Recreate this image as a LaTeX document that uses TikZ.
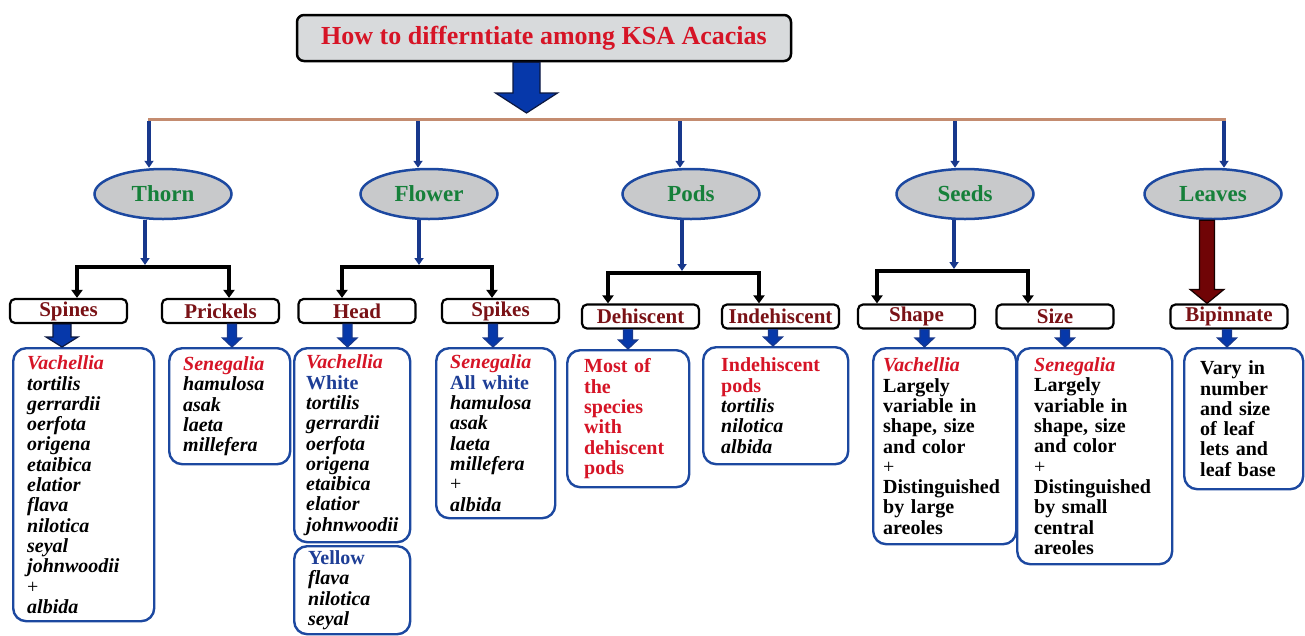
\documentclass[tikz,border=0pt]{standalone}
\usepackage{fontspec}
\setmainfont{Liberation Serif}
\usetikzlibrary{positioning, shapes.geometric, arrows.meta, calc}

\definecolor{titlered}{RGB}{214,20,38}
\definecolor{labelred}{RGB}{122,18,22}
\definecolor{leafgreen}{RGB}{22,128,58}
\definecolor{huetext}{RGB}{30,62,150}
\definecolor{headgray}{RGB}{216,218,220}
\definecolor{organgray}{RGB}{200,201,203}
\definecolor{boxblue}{RGB}{28,72,160}
\definecolor{stemblue}{RGB}{24,56,140}
\definecolor{blockfill}{RGB}{6,56,170}
\definecolor{blockline}{RGB}{12,24,64}
\definecolor{tanline}{RGB}{196,140,112}
\definecolor{leafarrow}{RGB}{112,4,6}

% fat arrow pointing down: from, to, shaft half, head half, head length, line, fill
\newcommand{\blockdown}[7]{%
    \draw[#6, fill=#7, line width=1.2pt, line join=miter]
        let \p1=(#1), \p2=(#2) in
        ({\x1-#3pt},\y1) -- ({\x1+#3pt},\y1) -- ({\x1+#3pt},{\y2+#5pt})
        -- ({\x1+#4pt},{\y2+#5pt}) -- (\x1,\y2) -- ({\x1-#4pt},{\y2+#5pt})
        -- ({\x1-#3pt},{\y2+#5pt}) -- cycle;}
\newcommand{\genus}[1]{\textcolor{titlered}{\textit{#1}}}
\newcommand{\hue}[1]{\textcolor{huetext}{\upshape #1}}
\newcommand{\plus}{{\upshape\mdseries +}}

\begin{document}
\begin{tikzpicture}[
    x=1pt, y=-1pt,
    % Styles
    heading/.style={
        rectangle,
        rounded corners=7pt,
        draw=black,
        line width=2.5pt,
        fill=headgray,
        minimum width=494pt,
        minimum height=46pt,
        text=titlered,
        font=\bfseries\fontsize{26}{28}\selectfont
    },
    organ/.style={
        ellipse,
        draw=boxblue,
        line width=2.5pt,
        fill=organgray,
        minimum width=137pt,
        minimum height=50pt,
        inner sep=0pt,
        text=leafgreen,
        font=\bfseries\fontsize{23}{25}\selectfont
    },
    trait/.style={
        rectangle,
        rounded corners=5pt,
        draw=black,
        line width=2.2pt,
        fill=white,
        minimum width=117pt,
        minimum height=24pt,
        inner sep=0pt,
        text=labelred,
        font=\bfseries\fontsize{21}{22}\selectfont
    },
    infobox/.style={
        rectangle,
        rounded corners=13pt,
        draw=boxblue,
        line width=2.4pt,
        fill=white,
        anchor=north west,
        align=left,
        inner xsep=14pt,
        inner ysep=0pt,
        font=\bfseries\fontsize{20}{20.3}\selectfont
    },
    species/.style={
        font=\bfseries\itshape\fontsize{20}{20.3}\selectfont
    },
    bar/.style={
        draw=tanline,
        line width=3pt
    },
    stem/.style={
        draw=stemblue,
        line width=3.2pt,
        -{Triangle[length=7pt,width=9pt]}
    },
    bracket/.style={
        draw=black,
        line width=3.5pt,
        {Triangle[length=8pt,width=11pt]}-{Triangle[length=8pt,width=11pt]}
    }
]
    \useasboundingbox (0,0) rectangle (1305,635);

    % Title and bar
    \node[heading] (title) at (544,38) {How to differntiate among KSA Acacias};
    \coordinate (barL) at (148,119);
    \coordinate (barR) at (1226,119);
    \coordinate (titletip) at (526.5,113);
    \blockdown{$(title.south)+(-17.5,0)$}{titletip}{13.5}{31}{20}{blockline}{blockfill}
    \draw[bar] (barL) -- (barR);

    % Organs
    \node[organ] (thorn) at (163,194) {Thorn};
    \node[organ] (flower) at (429,194) {Flower};
    \node[organ] (pods) at (691,194) {Pods};
    \node[organ] (seeds) at (965,194) {Seeds};
    \node[organ] (leaves) at (1213,194) {Leaves};

    \coordinate (b1) at (149,121);
    \coordinate (b2) at (418,121);
    \coordinate (b3) at (680,121);
    \coordinate (b4) at (955,121);
    \coordinate (b5) at (1224,121);
    \draw[stem] (b1) -- (b1 |- thorn.north);
    \draw[stem] (b2) -- (b2 |- flower.north);
    \draw[stem] (b3) -- (b3 |- pods.north);
    \draw[stem] (b4) -- (b4 |- seeds.north);
    \draw[stem] (b5) -- (b5 |- leaves.north);

    % Traits
    \node[trait] (spines) at (68.5,311) {Spines};
    \node[trait] (prickels) at (220.5,311) {Prickels};
    \node[trait] (head) at (357,311) {Head};
    \node[trait] (spikes) at (500.5,311) {Spikes};
    \node[trait] (dehisc) at (640.5,316.5) {Dehiscent};
    \node[trait] (indehisc) at (780.5,316.5) {Indehiscent};
    \node[trait] (shape) at (916.5,316.5) {Shape};
    \node[trait] (size) at (1055,316.5) {Size};
    \node[trait] (bipin) at (1229,316.5) {Bipinnate};

    % Brackets
    \coordinate (tj) at (145,265);
    \coordinate (tl) at (77,267);
    \coordinate (tr) at (229,267);
    \coordinate (fj) at (419,265);
    \coordinate (fl) at (342,267);
    \coordinate (fr) at (492,267);
    \coordinate (pj) at (682,271);
    \coordinate (pl) at (608,273);
    \coordinate (pr) at (759,273);
    \coordinate (sj) at (954,269);
    \coordinate (sl) at (877,271);
    \coordinate (sr) at (1028,271);
    \draw[stem] (tj |- thorn.south) -- (tj);
    \draw[stem] (fj |- flower.south) -- (fj);
    \draw[stem] (pj |- pods.south) -- (pj);
    \draw[stem] (sj |- seeds.south) -- (sj);
    \draw[bracket] (tl |- spines.north) -- (tl) -- (tr) -- (tr |- prickels.north);
    \draw[bracket] (fl |- head.north) -- (fl) -- (fr) -- (fr |- spikes.north);
    \draw[bracket] (pl |- dehisc.north) -- (pl) -- (pr) -- (pr |- indehisc.north);
    \draw[bracket] (sl |- shape.north) -- (sl) -- (sr) -- (sr |- size.north);
    \blockdown{$(leaves.south)+(-6,0)$}{bipin.north}{7.5}{17}{14}{black!80!leafarrow}{leafarrow}

    % Contents
    \node[infobox, species, text width=113pt, minimum height=273pt] (spinesbox) at (12,347)
        {\genus{Vachellia}\\ tortilis\\ gerrardii\\ oerfota\\ origena\\ etaibica\\ elatior\\ flava\\ nilotica\\ seyal\\ johnwoodii\\ \plus\\ albida};
    \node[infobox, species, text width=93pt, minimum height=116pt] (prickelsbox) at (168,347)
        {\genus{Senegalia}\\ hamulosa\\ asak\\ laeta\\ millefera};
    \node[infobox, species, text width=92pt, inner xsep=12pt, minimum height=194pt] (headbox) at (293,347)
        {\genus{Vachellia}\\ \hue{White}\\ tortilis\\ gerrardii\\ oerfota\\ origena\\ etaibica\\ elatior\\ johnwoodii};
    \node[infobox, species, text width=88pt, minimum height=88pt] (yellowbox) at (293,545)
        {\hue{Yellow}\\ flava\\ nilotica\\ seyal};
    \node[infobox, species, text width=91pt, minimum height=170pt] (spikesbox) at (435,347)
        {\genus{Senegalia}\\ \hue{All white}\\ hamulosa\\ asak\\ laeta\\ millefera\\ \plus\\ albida};
    \node[infobox, text width=88pt, inner xsep=17pt, minimum height=137pt, text=titlered] (dehiscbox) at (566,349)
        {Most of\\ the\\ species\\ with\\ dehiscent\\ pods};
    \node[infobox, species, text width=109pt, inner xsep=18pt, minimum height=117pt] (indehiscbox) at (702,346)
        {\textcolor{titlered}{\upshape Indehiscent}\\ \textcolor{titlered}{\upshape pods}\\ tortilis\\ nilotica\\ albida};
    \node[infobox, text width=123pt, inner xsep=10pt, minimum height=196pt] (shapebox) at (872,347)
        {\genus{Vachellia}\\ Largely\\ variable in\\ shape, size\\ and color\\ \plus\\ Distinguished\\ by large\\ areoles};
    \node[infobox, text width=121pt, inner xsep=17pt, minimum height=216pt] (sizebox) at (1016,347)
        {\genus{Senegalia}\\ Largely\\ variable in\\ shape, size\\ and color\\ \plus\\ Distinguished\\ by small\\ central\\ areoles};
    \node[infobox, text width=87pt, inner xsep=16pt, minimum height=141pt] (bipinbox) at (1183,347)
        {Vary in\\ number\\ and size\\ of leaf\\ lets and\\ leaf base};

    % Small arrows
    \blockdown{$(spines.south)+(-6.5,0)$}{spinesbox.north}{9}{16}{10}{blockline}{blockfill}
    \blockdown{$(prickels.south)+(11.5,0)$}{prickelsbox.north}{4.5}{9.5}{9}{stemblue}{blockfill}
    \blockdown{$(head.south)+(-9.5,0)$}{headbox.north}{4.5}{9.5}{9}{stemblue}{blockfill}
    \blockdown{$(spikes.south)+(-7.5,0)$}{spikesbox.north}{4.5}{9.5}{9}{stemblue}{blockfill}
    \blockdown{$(dehisc.south)+(-12.5,0)$}{dehiscbox.north}{4.5}{9.5}{9}{stemblue}{blockfill}
    \blockdown{$(indehisc.south)+(-7.5,0)$}{indehiscbox.north}{4.5}{9.5}{9}{stemblue}{blockfill}
    \blockdown{$(shape.south)+(8,0)$}{shapebox.north}{4.5}{9.5}{9}{stemblue}{blockfill}
    \blockdown{$(size.south)+(10,0)$}{sizebox.north}{4.5}{9.5}{9}{stemblue}{blockfill}
    \blockdown{$(bipin.south)+(-2,0)$}{bipinbox.north}{4.5}{9.5}{9}{stemblue}{blockfill}
\end{tikzpicture}
\end{document}
